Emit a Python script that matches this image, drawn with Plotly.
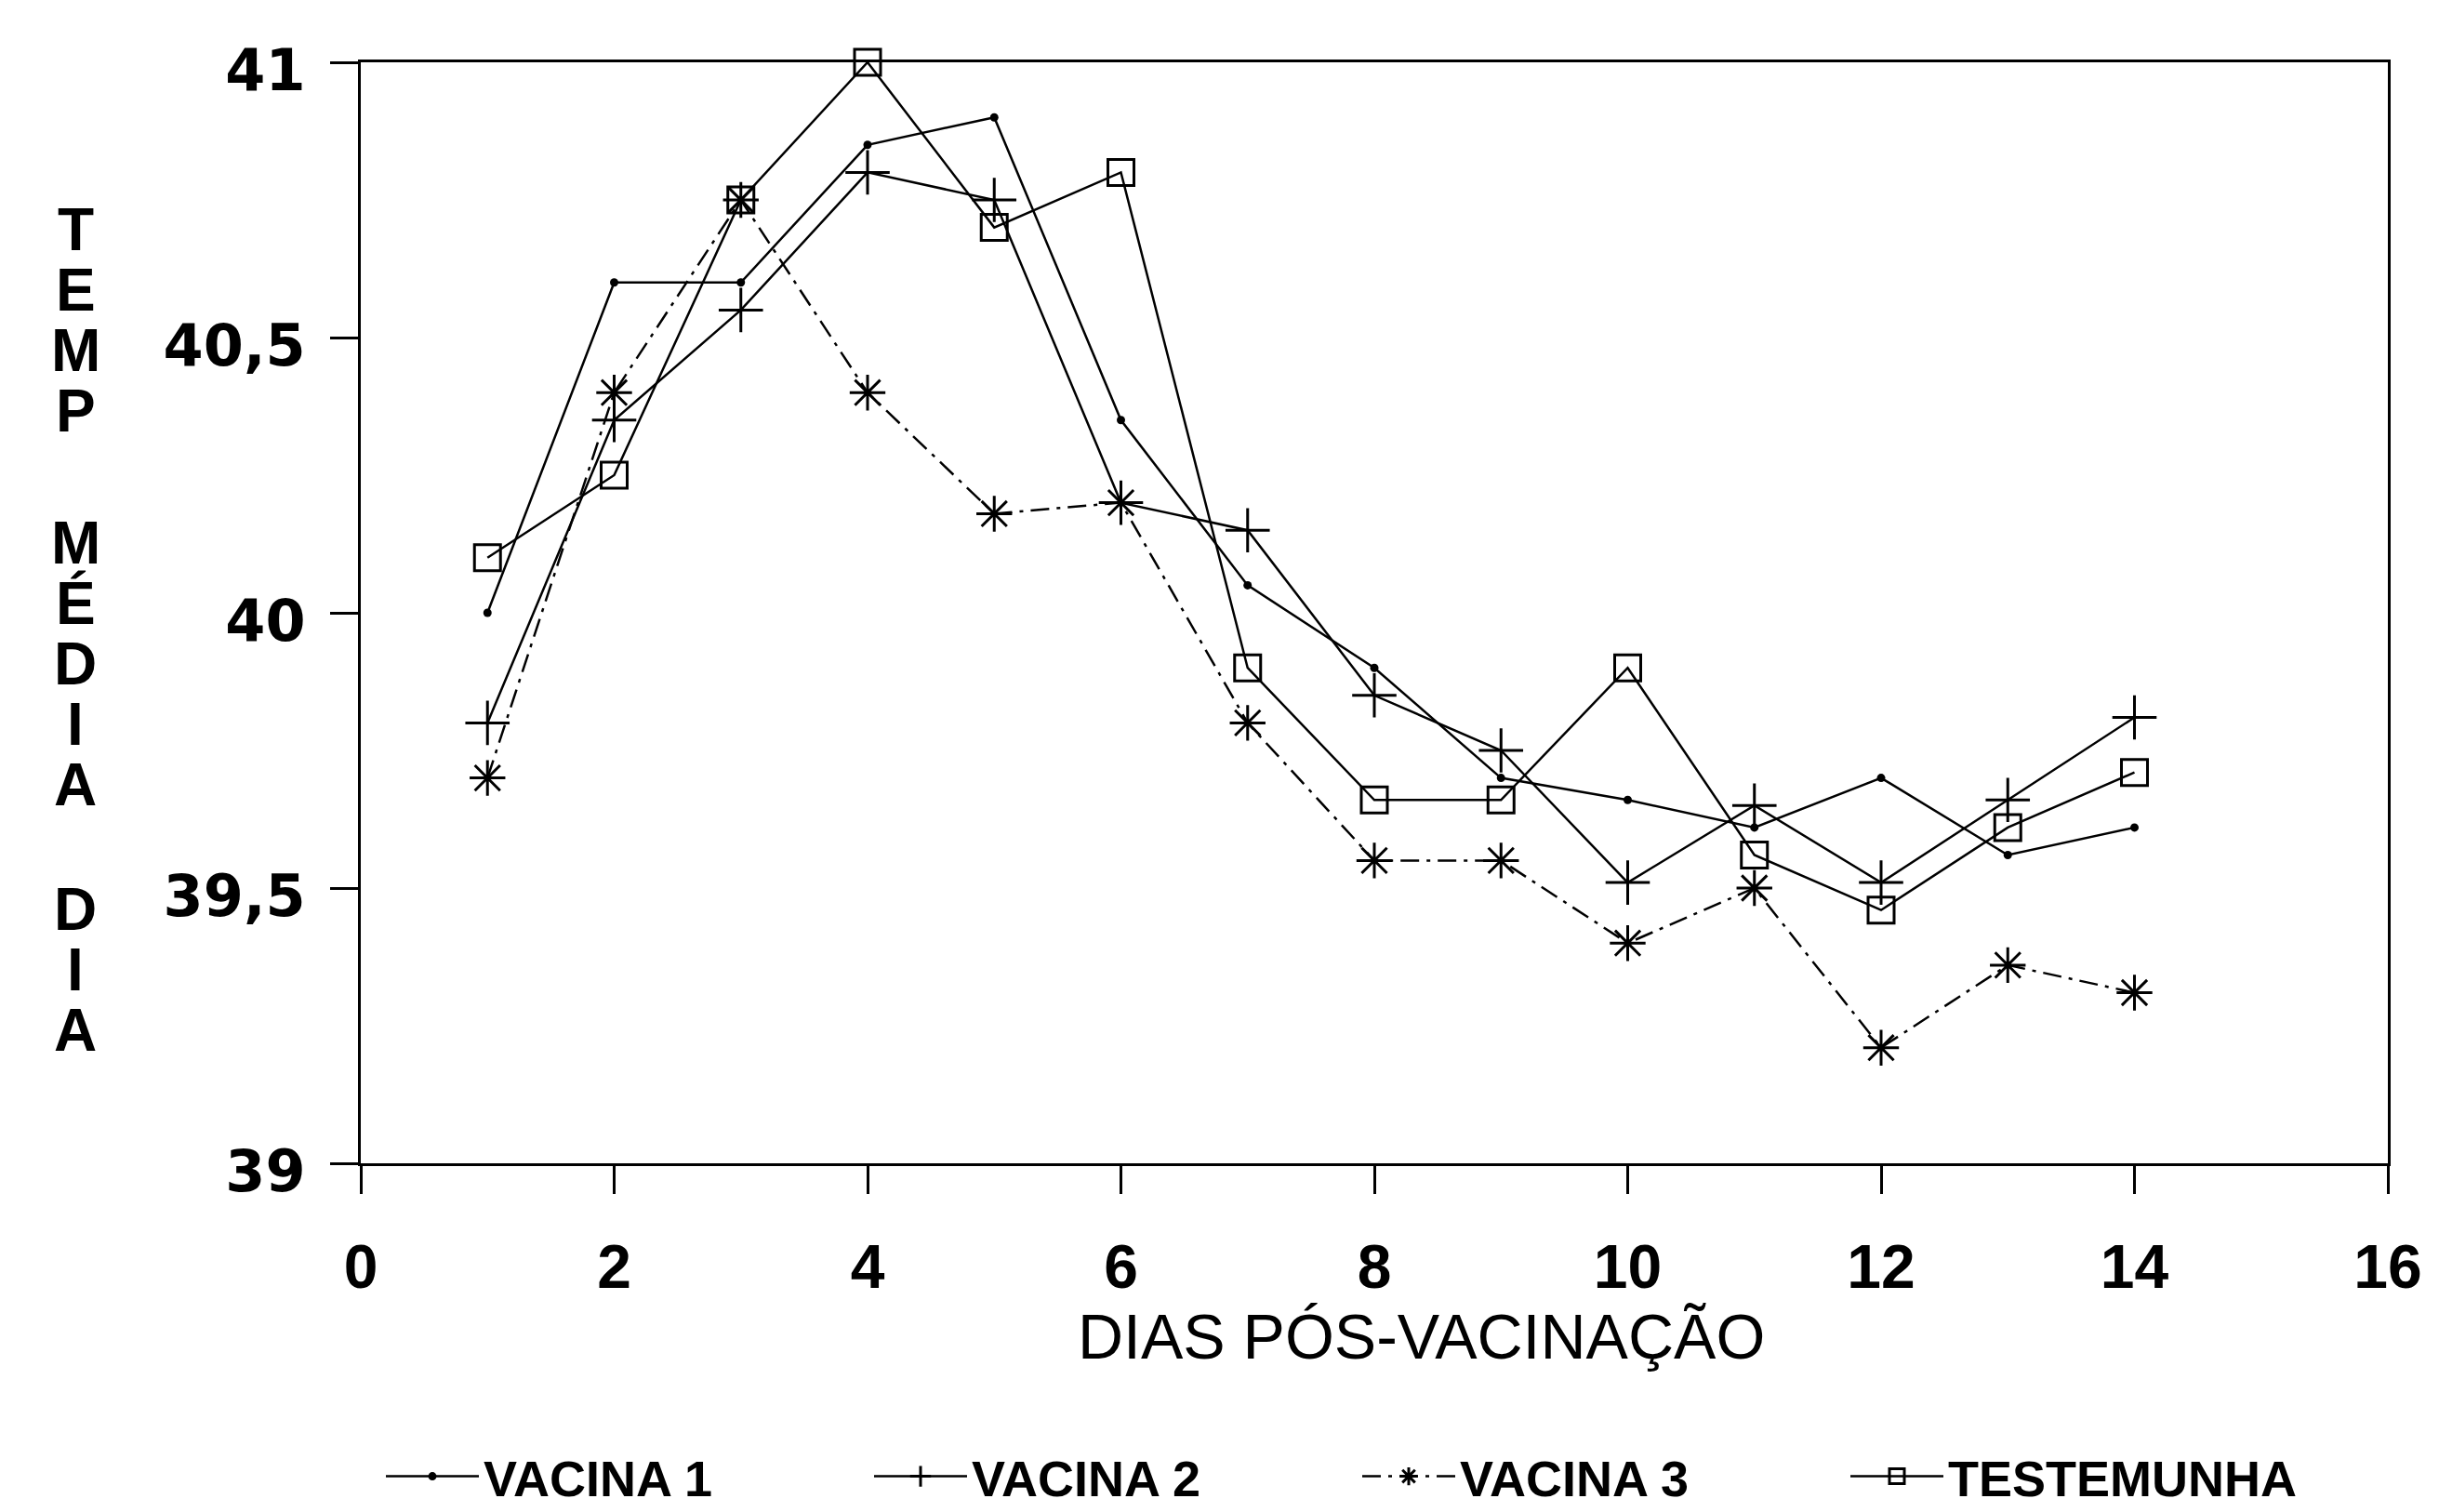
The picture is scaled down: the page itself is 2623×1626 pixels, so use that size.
import plotly.graph_objects as go

# ---------------- data ----------------
days = list(range(1, 15))
vacina1 = [40.0, 40.6, 40.6, 40.85, 40.9, 40.35, 40.05, 39.9, 39.7, 39.66, 39.61, 39.7, 39.56, 39.61]
vacina2 = [39.8, 40.35, 40.55, 40.8, 40.75, 40.2, 40.15, 39.85, 39.75, 39.51, 39.65, 39.51, 39.66, 39.81]
vacina3 = [39.7, 40.4, 40.75, 40.4, 40.18, 40.2, 39.8, 39.55, 39.55, 39.4, 39.5, 39.21, 39.36, 39.31]
testemunha = [40.1, 40.25, 40.75, 41.0, 40.7, 40.8, 39.9, 39.66, 39.66, 39.9, 39.56, 39.46, 39.61, 39.71]

series_names = ["VACINA 1", "VACINA 2", "VACINA 3", "TESTEMUNHA"]
y_tickvals = [39, 39.5, 40, 40.5, 41]
y_ticktext = ["39", "39,5", "40", "40,5", "41"]
x_tickvals = [0, 2, 4, 6, 8, 10, 12, 14, 16]
x_title = "DIAS PÓS-VACINAÇÃO"
y_title_words = ["TEMP", "MÉDIA", "DIA"]

# ---------------- figure ----------------
# page body has an 8px margin, so the figure is shifted; compensate
OFF = 8
W, H = 2623 - OFF, 1626 - OFF
ML, MR, MT, MB = 388 - OFF, 55, 67 - OFF, 375
PW, PH = W - ML - MR, H - MT - MB


def px_x(page_x):
    return (page_x - OFF - ML) / PW


def px_y(page_y):
    return (MT + PH - (page_y - OFF)) / PH


fig = go.Figure()

styles = [
    dict(marker=dict(symbol="circle", size=9, color="black"),
         line=dict(color="black", width=2.5, dash="solid")),
    dict(marker=dict(symbol="cross-thin-open", size=34, color="black", line=dict(width=3, color="black")),
         line=dict(color="black", width=2.5, dash="solid")),
    dict(marker=dict(symbol="asterisk-open", size=32, color="black", line=dict(width=3, color="black")),
         line=dict(color="black", width=2.5, dash="20px,8px,4px,8px")),
    dict(marker=dict(symbol="square-open", size=28, color="black", line=dict(width=3, color="black")),
         line=dict(color="black", width=2.5, dash="solid")),
]

for name, vals, st in zip(series_names, [vacina1, vacina2, vacina3, testemunha], styles):
    fig.add_trace(go.Scatter(
        x=days, y=vals, name=name, mode="lines+markers",
        marker=st["marker"], line=st["line"], cliponaxis=False,
    ))

fig.update_xaxes(
    range=[0, 16], tickvals=x_tickvals, ticks="outside", ticklen=30, tickwidth=2.5,
    tickcolor="black", showline=True, linewidth=3, linecolor="black", mirror=True,
    showgrid=False, zeroline=False, ticklabelstandoff=22, automargin=False,
    tickfont=dict(family="Liberation Sans", size=66, color="black", weight="bold"),
)
fig.update_yaxes(
    range=[39, 41], tickvals=y_tickvals, ticktext=y_ticktext, ticks="outside", ticklen=30,
    tickwidth=2.5, tickcolor="black", showline=True, linewidth=3, linecolor="black",
    mirror=True, showgrid=False, zeroline=False, ticklabelstandoff=14, automargin=False,
    ticklabelshift=8,
    tickfont=dict(family="DejaVu Sans", size=62, color="black", weight="bold"),
)

annotations = []
# x title
annotations.append(dict(
    text=x_title, xref="paper", yref="paper",
    x=px_x(1528), y=px_y(1437), xanchor="center", yanchor="middle",
    showarrow=False, font=dict(family="Liberation Sans", size=68, color="black"),
))
# y title: stacked letters
pitch = 65
word_starts = [247, 584, 978]
for word, y0 in zip(y_title_words, word_starts):
    for i, ch in enumerate(word):
        yc = y0 + i * pitch
        annotations.append(dict(
            text=ch, xref="paper", yref="paper",
            x=px_x(81), y=px_y(yc), xanchor="center", yanchor="middle",
            showarrow=False,
            font=dict(family="Liberation Sans", size=64, color="black", weight="bold"),
        ))

fig.update_layout(
    width=W, height=H, autosize=False,
    margin=dict(l=ML, r=MR, t=MT, b=MB, pad=0, autoexpand=False),
    paper_bgcolor="white", plot_bgcolor="white",
    showlegend=True,
    legend=dict(
        orientation="h", xref="paper", yref="paper",
        x=px_x(410), y=px_y(1588), xanchor="left", yanchor="middle",
        font=dict(family="Liberation Sans", size=54, color="black", weight="bold"),
        itemwidth=100, entrywidth=410, bgcolor="rgba(0,0,0,0)", borderwidth=0,
        tracegroupgap=0,
    ),
    annotations=annotations,
)

fig.write_html("out.html")
